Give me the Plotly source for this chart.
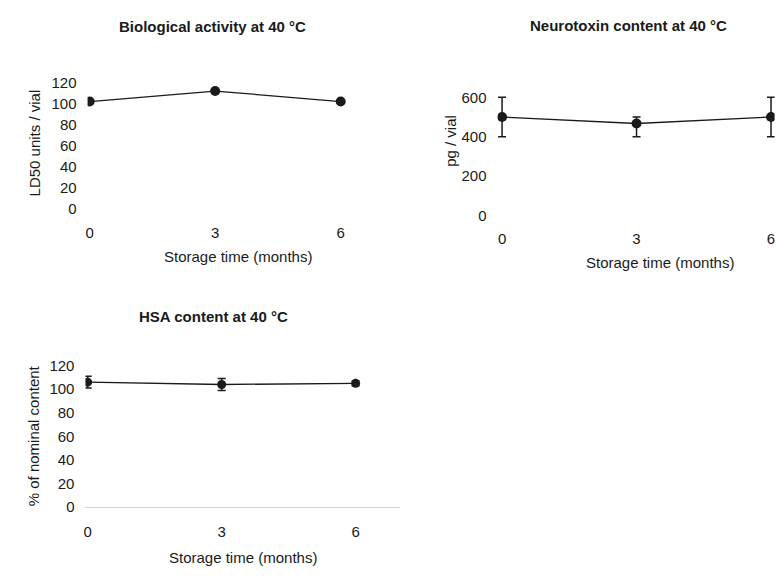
import plotly.graph_objects as go

W, H = 776, 578

months = [0, 3, 6]
month_ticks = ["0", "3", "6"]

# Panel 1: Biological activity
bio_values = [102, 112, 102]
# Panel 2: Neurotoxin content
neuro_values = [500, 467, 500]
neuro_err_plus = [100, 33, 100]
neuro_err_minus = [100, 67, 100]
# Panel 3: HSA content
hsa_values = [106, 104, 105]
hsa_err = [5, 5, 2]

titles = ["Biological activity at 40 °C", "Neurotoxin content at 40 °C", "HSA content at 40 °C"]
ytitles = ["LD50 units / vial", "pg / vial", "% of nominal content"]
xtitle = "Storage time (months)"

FONT = "Liberation Sans, Arial, sans-serif"
INK = "#1a1a1a"

def px_dom_x(l, r):
    return [l / W, r / W]

def px_dom_y(top, bottom):
    return [1 - bottom / H, 1 - top / H]

fig = go.Figure()

line_style = dict(color=INK, width=1.3)
marker_style = dict(color=INK, size=10, symbol="circle")

fig.add_trace(go.Scatter(x=months, y=bio_values, mode="lines+markers",
                         line=line_style, marker=marker_style,
                         xaxis="x", yaxis="y", showlegend=False))
fig.add_trace(go.Scatter(x=months, y=neuro_values, mode="lines+markers",
                         line=line_style, marker=marker_style,
                         error_y=dict(type="data", symmetric=False, array=neuro_err_plus,
                                      arrayminus=neuro_err_minus, color=INK,
                                      thickness=1.5, width=4),
                         xaxis="x2", yaxis="y2", showlegend=False))
fig.add_trace(go.Scatter(x=months, y=hsa_values, mode="lines+markers",
                         line=line_style, marker=dict(color=INK, size=9),
                         error_y=dict(type="data", array=hsa_err, color=INK,
                                      thickness=1.5, width=4),
                         xaxis="x3", yaxis="y3", showlegend=False))

tickfont = dict(family=FONT, size=15, color=INK)
common_x = dict(tickmode="array", tickvals=months, ticktext=month_ticks,
                showgrid=False, zeroline=False, showline=False,
                ticks="", tickfont=tickfont, ticklabelstandoff=10,
                ticklabeloverflow="allow")
common_y = dict(showgrid=False, zeroline=False, showline=False, ticks="",
                tickfont=tickfont, ticklabelstandoff=10)

fig.update_layout(
    width=W, height=H,
    margin=dict(l=0, r=0, t=0, b=0),
    paper_bgcolor="white", plot_bgcolor="white",
    font=dict(family=FONT, color=INK),
    xaxis=dict(domain=px_dom_x(85.9, 352.6), range=[-0.05, 6.3], anchor="y", **common_x),
    yaxis=dict(domain=px_dom_y(73.7, 210.2), range=[-3, 125], anchor="x",
               tickvals=[0, 20, 40, 60, 80, 100, 120], **common_y),
    xaxis2=dict(domain=px_dom_x(497.5, 775.6), range=[-0.1, 6.08], anchor="y2", **common_x),
    yaxis2=dict(domain=px_dom_y(90, 217), range=[-15, 620], anchor="x2",
                tickvals=[0, 200, 400, 600], **common_y),
    xaxis3=dict(domain=px_dom_x(83.8, 399.8), range=[-0.05, 7.0], anchor="y3", **common_x),
    yaxis3=dict(domain=px_dom_y(361, 514.6), range=[-3, 125], anchor="x3",
                tickvals=[0, 20, 40, 60, 80, 100, 120], **{**common_y, "zeroline": True},
                zerolinecolor="#d0d0d0", zerolinewidth=1),
)

def ann(text, xpx, ypx, size, bold=False, angle=0):
    fig.add_annotation(text=f"<b>{text}</b>" if bold else text,
                       x=xpx / W, y=1 - ypx / H, xref="paper", yref="paper",
                       showarrow=False, textangle=angle, xanchor="center", yanchor="middle",
                       font=dict(family=FONT, size=size, color=INK))

# panel titles
ann(titles[0], 211, 22, 15, bold=True)
ann(titles[1], 629, 21, 15, bold=True)
ann(titles[2], 212, 317, 15, bold=True)
# y titles
ann(ytitles[0], 33, 140, 15, angle=-90)
ann(ytitles[1], 450, 138, 15, angle=-90)
ann(ytitles[2], 32, 438, 15, angle=-90)
# x titles
ann(xtitle, 237, 256, 15)
ann(xtitle, 661, 262, 15)
ann(xtitle, 242, 562, 15)

fig.write_html("out.html")
